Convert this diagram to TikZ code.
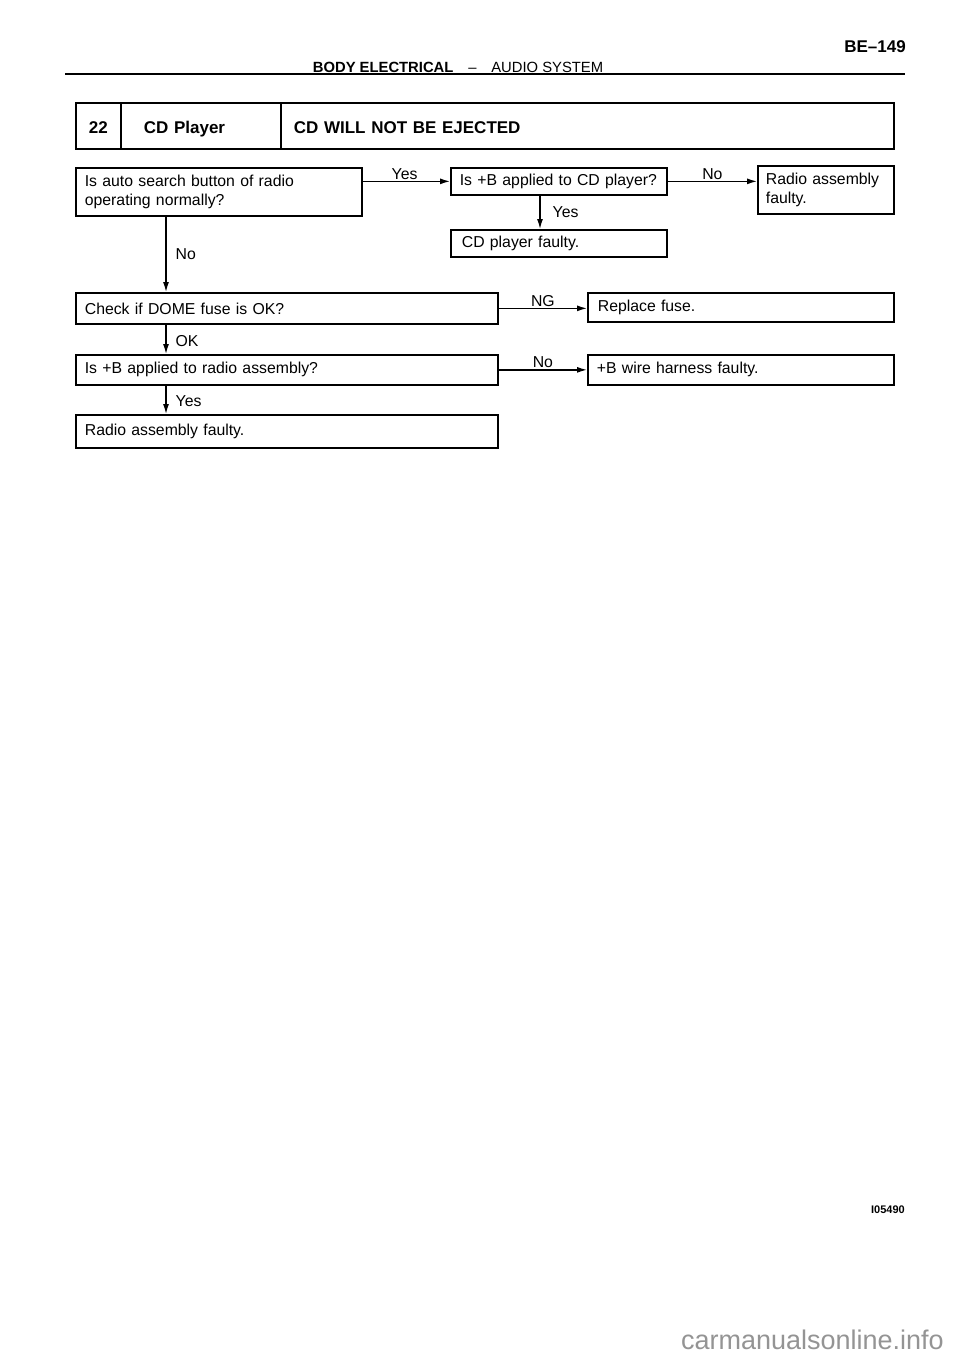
\documentclass[tikz,border=0pt]{standalone}
\usepackage{fontspec}
\setmainfont{Liberation Sans}
\usetikzlibrary{arrows.meta}
\begin{document}
\begin{tikzpicture}[x=1pt,y=-1pt,
  txt/.style={font=\fontsize{15.8}{18.5}\selectfont},
  box/.style={draw, line width=1.7pt, anchor=north west, align=left, inner xsep=9pt, inner ysep=0pt, txt},
  hbox/.style={draw, line width=1.7pt, anchor=north west, inner sep=0pt, minimum height=46pt, text height=18pt, text depth=2pt, font=\bfseries\fontsize{17}{20}\selectfont},
  conn/.style={line width=1.3pt, -{Latex[length=10pt,width=6pt]}},
  lblh/.style={anchor=south, inner sep=1.5pt, txt},
  lblv/.style={anchor=west, inner sep=0pt, txt}]
\useasboundingbox (0,0) rectangle (960,1358);
% page header
\node[anchor=east, inner sep=0pt, font=\bfseries\fontsize{17}{20}\selectfont] (pg) at (906,47) {BE--149};
\node[anchor=base, inner sep=0pt, font=\fontsize{14.8}{17}\selectfont] (ttl) at (458,72) {\textbf{BODY ELECTRICAL}\quad --\quad AUDIO SYSTEM};
\draw[line width=2pt] (65,74) -- (905,74);
% title box
\node[hbox, minimum width=45pt] (h1) at (75,102) {22};
\node[hbox, minimum width=160pt, text width=160pt, align=left] (h2) at (120,102) {\hspace*{23pt}CD Player};
\node[hbox, minimum width=613pt, text width=613pt, align=left] (h3) at (280,102) {\hspace*{13pt}CD WILL NOT BE EJECTED};
% boxes
\node[box, minimum width=286pt, text width=268pt, minimum height=48pt] (b1) at (75,167) {Is auto search button of radio\\operating normally?};
\node[box, minimum width=216pt, text width=198pt, minimum height=27pt, inner xsep=9pt] (b2) at (450,167) {Is +B applied to CD player?};
\node[box, minimum width=136pt, text width=120pt, minimum height=48pt, inner xsep=8pt] (b3) at (757,165) {Radio assembly\\faulty.};
\node[box, minimum width=216pt, text width=198pt, minimum height=27pt, inner xsep=9pt] (b4) at (450,229) {\hspace*{2pt}CD player faulty.};
\node[box, minimum width=422pt, text width=404pt, minimum height=31pt] (b5) at (75,292) {Check if DOME fuse is OK?};
\node[box, minimum width=306pt, text width=286pt, minimum height=29pt, inner xsep=10pt] (b6) at (587,292) {Replace fuse.};
\node[box, minimum width=422pt, text width=404pt, minimum height=30pt] (b7) at (75,354) {Is +B applied to radio assembly?};
\node[box, minimum width=306pt, text width=288pt, minimum height=30pt] (b8) at (587,354) {+B wire harness faulty.};
\node[box, minimum width=422pt, text width=404pt, minimum height=33pt] (b9) at (75,414) {Radio assembly faulty.};
% vertical guide coordinates
\coordinate (vl) at (166,0);
\coordinate (vr) at (540,0);
% connectors
\draw[conn] (b2.west -| b1.east) -- node[lblh, pos=0.48] {Yes} (b2.west);
\draw[conn] (b2.east) -- node[lblh] {No} (b2.east -| b3.west);
\draw[conn] (b2.south -| vr) -- node[lblv, xshift=12pt, pos=0.5] {Yes} (b4.north -| vr);
\draw[conn] (b1.south -| vl) -- node[lblv, xshift=9pt, pos=0.5] {No} (b5.north -| vl);
\draw[conn] (b5.east) -- node[lblh] {NG} (b5.east -| b6.west);
\draw[conn] (b5.south -| vl) -- node[lblv, xshift=9pt, pos=0.55] {OK} (b7.north -| vl);
\draw[conn] (b7.east) -- node[lblh] {No} (b7.east -| b8.west);
\draw[conn] (b7.south -| vl) -- node[lblv, xshift=9pt, pos=0.55] {Yes} (b9.north -| vl);
% figure code and watermark
\node[anchor=east, inner sep=0pt, font=\bfseries\fontsize{11}{13}\selectfont] (code) at (905,1210) {I05490};
\node[anchor=east, inner sep=0pt, text=black!42, font=\fontsize{27}{30}\selectfont] (wm) at (944,1340) {carmanualsonline.info};
\end{tikzpicture}
\end{document}
